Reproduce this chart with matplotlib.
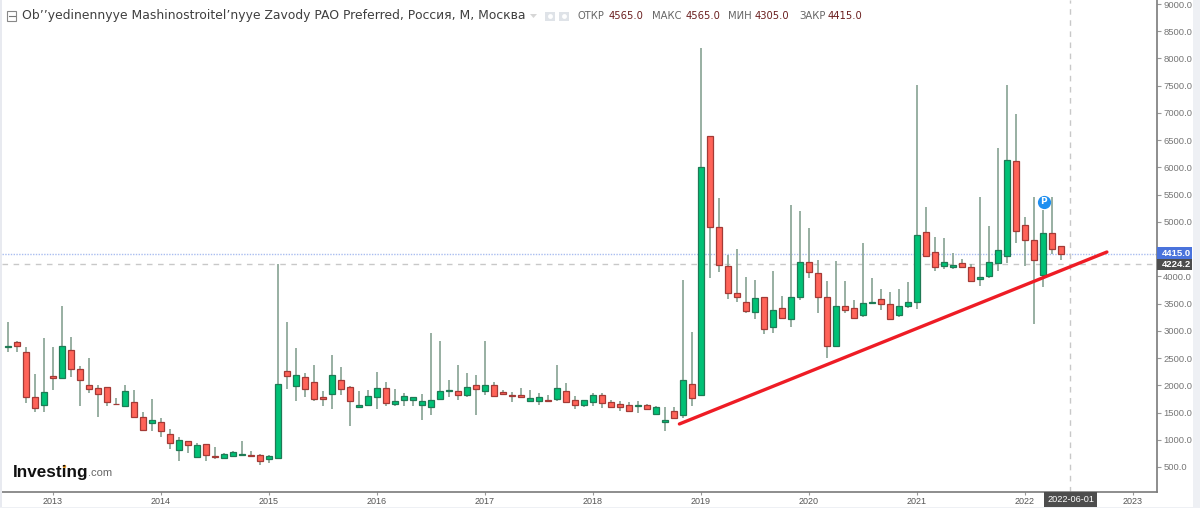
import matplotlib

matplotlib.use("Agg")
import matplotlib.pyplot as plt
import numpy as np
from matplotlib.patches import Polygon, Rectangle

# Monthly candles, Aug 2012 .. May 2022 (118 bars)
open_ = [2703, 2801, 2617, 1791, 1638, 2171, 2134, 2648, 2299, 2005,
         1944, 1963, 1663, 1626, 1699, 1412, 1308, 1320, 1100, 812,
         977, 690, 922, 708, 659, 702, 714, 726, 720, 647,
         659, 2256, 1987, 2146, 2060, 1779, 1846, 2091, 1975, 1608,
         1638, 1785, 1944, 1663, 1736, 1724, 1644, 1608, 1754, 1895,
         1895, 1816, 2005, 1889, 1999, 1871, 1822, 1822, 1712, 1712,
         1730, 1754, 1895, 1730, 1638, 1693, 1822, 1687, 1657, 1638,
         1626, 1638, 1473, 1320, 1534, 1455, 2030, 1816, 6583, 4912,
         4184, 3688, 3535, 3339, 3627, 3070, 3413, 3223, 3627, 4257,
         4062, 3615, 2727, 3462, 3413, 3297, 3505, 3578, 3486, 3291,
         3462, 3536, 4821, 4454, 4197, 4178, 4246, 4172, 3958, 3999,
         4246, 4368, 6112, 4937, 4668, 4019, 4802, 4565]
high = [3168, 2819, 2709, 2201, 2862, 2709, 3462, 2893, 2360, 2507,
        2005, 1963, 1761, 2005, 1914, 1504, 1748, 1406, 1191, 1057,
        983, 934, 922, 873, 763, 794, 983, 788, 732, 714,
        4224, 3168, 2685, 2220, 2379, 1901, 2562, 2330, 1987, 1901,
        1907, 2250, 2054, 1932, 1852, 1791, 1834, 2954, 2807, 2097,
        2366, 2220, 2189, 2807, 2067, 1914, 1871, 1950, 1914, 1852,
        1816, 2379, 2036, 1810, 1730, 1865, 1852, 1730, 1712, 1699,
        1712, 1657, 1626, 1595, 1595, 3933, 2985, 8186, 6583, 5432,
        4386, 4508, 3982, 3933, 3627, 4104, 3639, 5310, 5206, 4882,
        4300, 3921, 4282, 3921, 3560, 4606, 3964, 3762, 3707, 3762,
        3903, 7514, 5268, 4717, 4698, 4435, 4319, 4221, 5457, 4931,
        6363, 7507, 6975, 5096, 5457, 5212, 5457, 4565]
low = [2617, 2617, 1681, 1516, 1516, 1914, 2128, 2146, 1626, 1865,
       1424, 1626, 1644, 1620, 1412, 1167, 1167, 1045, 824, 610,
       763, 690, 610, 641, 653, 690, 702, 690, 530, 567,
       653, 1926, 1718, 1791, 1706, 1620, 1559, 1828, 1259, 1601,
       1626, 1571, 1620, 1620, 1620, 1620, 1357, 1448, 1754, 1779,
       1736, 1779, 1461, 1828, 1791, 1816, 1699, 1761, 1699, 1644,
       1699, 1718, 1687, 1559, 1608, 1626, 1577, 1595, 1522, 1522,
       1485, 1546, 1461, 1161, 1393, 1393, 1620, 1803, 3973, 4074,
       3590, 3529, 3321, 3211, 2948, 2954, 3211, 3064, 3560, 3970,
       3321, 2507, 2721, 3333, 3229, 3247, 3505, 3382, 3223, 3260,
       3413, 3407, 4374, 4105, 4135, 4135, 4148, 3909, 3829, 3976,
       4105, 4239, 4619, 4197, 3126, 3811, 4411, 4305]
close = [2728, 2721, 1791, 1577, 1883, 2128, 2728, 2299, 2091, 1938,
         1846, 1699, 1650, 1895, 1412, 1173, 1369, 1155, 947, 989,
         910, 904, 720, 683, 732, 781, 739, 702, 616, 702,
         2018, 2164, 2183, 1926, 1742, 1754, 2183, 1938, 1712, 1644,
         1810, 1944, 1681, 1706, 1810, 1779, 1706, 1730, 1895, 1914,
         1816, 1969, 1938, 2005, 1803, 1846, 1797, 1785, 1761, 1791,
         1712, 1956, 1699, 1638, 1724, 1822, 1669, 1608, 1608, 1534,
         1638, 1565, 1608, 1369, 1393, 2091, 1773, 6008, 4906, 4202,
         3688, 3615, 3370, 3609, 3039, 3382, 3235, 3627, 4257, 4080,
         3627, 2715, 3456, 3388, 3235, 3505, 3535, 3492, 3223, 3462,
         3536, 4753, 4380, 4166, 4270, 4215, 4166, 3915, 3988, 4258,
         4484, 6130, 4827, 4662, 4301, 4802, 4503, 4415]

FIRST_BAR = -5  # Aug 2012, in months from Jan 2013
year_labels = ["2013", "2014", "2015", "2016", "2017", "2018", "2019", "2020", "2021", "2022", "2023"]
price_ticks = [500, 1000, 1500, 2000, 2500, 3000, 3500, 4000, 4500, 5000, 5500,
               6000, 6500, 7000, 7500, 8000, 8500, 9000]

last_price = 4415.0
cursor_price = 4224.2
cursor_month = 113  # 2022-06
trend_x = [69.6, 117.1]
trend_y = [1290, 4447]

GREEN, GREEN_EDGE = "#00c176", "#1f7a55"
RED, RED_EDGE = "#ff6358", "#a33a36"
WICK = "#90a99b"
GREY_TEXT = "#767676"
DARK_RED = "#6b1f1f"
SANS = "Liberation Sans"

W, H = 1200, 508
plt.rcParams["font.family"] = ["DejaVu Sans"]

fig = plt.figure(figsize=(W / 100, H / 100), dpi=100)
fig.patch.set_facecolor("white")
ax = fig.add_axes([2 / W, 1 - 492 / H, 1155 / W, 492 / H])
ax.set_xlim(-5.67, 122.67)
ax.set_ylim(41, 9074)

for side in ("top", "left"):
    ax.spines[side].set_visible(False)
for side in ("bottom", "right"):
    ax.spines[side].set_color("#7a7a7a")
    ax.spines[side].set_linewidth(1.2)

ax.yaxis.tick_right()
ax.set_yticks(price_ticks, [f"{p:.1f}" for p in price_ticks], family=SANS)
ax.set_xticks(np.arange(len(year_labels)) * 12, year_labels, family=SANS)
ax.tick_params(axis="y", length=3, width=0.8, color="#999999", labelcolor=GREY_TEXT, labelsize=6.8, pad=1.5)
ax.tick_params(axis="x", length=2, width=0.8, color="#999999", labelcolor="#555555", labelsize=6.5, pad=1.5)

# crosshair and last price lines
ax.axhline(last_price, color="#a9bdf0", linewidth=1, linestyle=(0, (1, 1)), zorder=1)
ax.axhline(cursor_price, color="#c8c8c8", linewidth=1, linestyle=(0, (4, 4)), zorder=1)
ax.axvline(cursor_month, color="#c8c8c8", linewidth=1, linestyle=(0, (4, 4)), zorder=1)

# candles
xs = FIRST_BAR + np.arange(len(open_))
for x, o, h, l, c in zip(xs, open_, high, low, close):
    up = c >= o
    ax.plot([x, x], [l, h], color=WICK, linewidth=1.3, solid_capstyle="butt", zorder=2)
    ax.add_patch(Rectangle((x - 0.29, min(o, c)), 0.58, abs(c - o),
                           facecolor=GREEN if up else RED,
                           edgecolor=GREEN_EDGE if up else RED_EDGE,
                           linewidth=0.9, zorder=3))

ax.plot(trend_x, trend_y, color="#ee1c25", linewidth=2.4, solid_capstyle="round", zorder=4)

# "P" marker above the spring 2022 bars
ax.plot([110.1], [5370], "o", color="#1e8ff0", markersize=9.5, markeredgecolor="none", zorder=5)
ax.text(110.1, 5370, "P", color="white", fontsize=6.5, fontweight="bold", ha="center", va="center", zorder=6)


def px_text(x, y, s, **kw):
    fig.text(x / W, 1 - y / H, s, va="center", **kw)


def px_rect(x0, y0, x1, y1, color, **kw):
    fig.add_artist(Rectangle((x0 / W, 1 - y1 / H), (x1 - x0) / W, (y1 - y0) / H,
                             transform=fig.transFigure, facecolor=color, edgecolor=kw.pop("edge", "none"), **kw))


# price and date tags on the axes
px_rect(1157, 247, 1192, 258.5, "#4a73dc")
px_rect(1157, 258.5, 1192, 270, "#4d4d4d")
px_rect(1044, 492, 1097, 507, "#4d4d4d")
px_text(1162, 253, f"{last_price:.1f}", color="white", fontsize=6.8, fontweight="bold", family=SANS, zorder=5)
px_text(1162, 264.5, f"{cursor_price:.1f}", color="white", fontsize=6.8, fontweight="bold", family=SANS, zorder=5)
px_text(1071, 500, "2022-06-01", color="white", fontsize=6.6, ha="center", family=SANS, zorder=5)

# header
px_text(22, 16, "Ob’’yedinennyye Mashinostroitel’nyye Zavody PAO Preferred, Россия, М, Москва",
        color="#3f3f3f", fontsize=8.9)
px_rect(7, 11, 16, 21, "white", edge="#888888", linewidth=0.8)
fig.add_artist(plt.Line2D([8.5 / W, 14.5 / W], [1 - 16 / H, 1 - 16 / H], color="#777777", linewidth=0.8))
fig.add_artist(Polygon([[530 / W, 1 - 14 / H], [537 / W, 1 - 14 / H], [533.5 / W, 1 - 18 / H]],
                       transform=fig.transFigure, facecolor="#d6d6d6", edgecolor="none"))
for x0 in (545, 559):
    px_rect(x0, 12, x0 + 10, 21, "#dfe3e8")
    fig.add_artist(plt.Line2D([(x0 + 5) / W], [1 - 16.5 / H], marker="o", markersize=3.5,
                              color="white", markeredgecolor="none", linestyle="none"))

ohlc_labels = [("ОТКР", 577, "4565.0", 609), ("МАКС", 652, "4565.0", 686),
               ("МИН", 728, "4305.0", 755), ("ЗАКР", 799, "4415.0", 828)]
for name, nx, value, vx in ohlc_labels:
    px_text(nx, 16, name, color="#666666", fontsize=7.2)
    px_text(vx, 16, value, color=DARK_RED, fontsize=7.2)

# logo
px_text(13, 472, "Investing", color="#111111", fontsize=12.3, fontweight="bold", family=SANS)
px_text(88, 473.5, ".com", color="#666666", fontsize=8, family=SANS)
fig.add_artist(plt.Line2D([63.5 / W], [1 - 465.5 / H], marker="o", markersize=2.5,
                          color="#f29a1f", markeredgecolor="none", linestyle="none"))

# page background around the chart
px_rect(1193, 0, 1200, 508, "#eef0f4")
px_rect(0, 0, 2, 508, "#e8eaf0")
px_rect(0, 506.5, 1200, 508, "#eef0f4")

fig.savefig("out.png", dpi=100)
